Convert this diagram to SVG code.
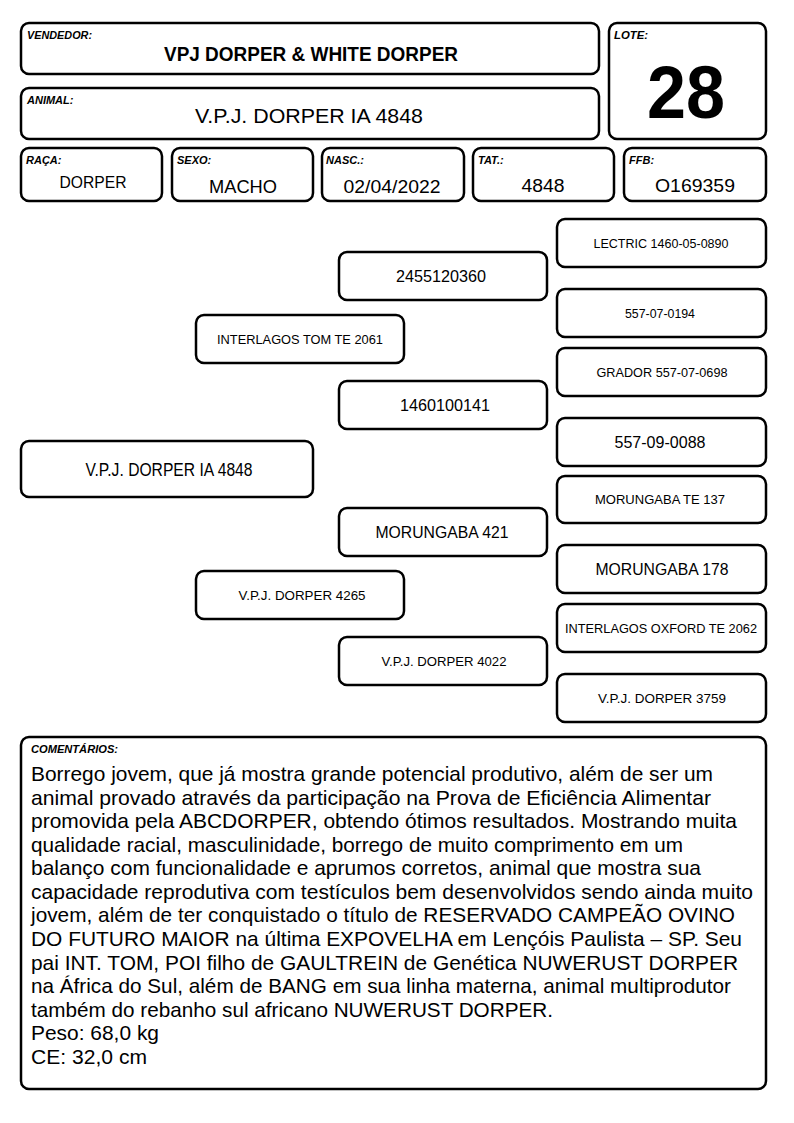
<svg xmlns="http://www.w3.org/2000/svg" width="794" height="1123" viewBox="0 0 794 1123">
<style>
.b{fill:#fff;stroke:#000;stroke-width:2.5}
text{font-family:"Liberation Sans",Arial,sans-serif;fill:#000}
.lb{font-size:11px;font-weight:bold;font-style:italic}
.c{text-anchor:middle}
.s{font-size:13px}
.m{font-size:16.5px}
.cm{font-size:21px}
</style>
<rect width="794" height="1123" fill="#fff"/>
<g id="vendedor">
<rect class="b" x="21" y="23" width="578" height="51" rx="8"/>
<text class="lb" x="27" y="39" textLength="65" lengthAdjust="spacingAndGlyphs">VENDEDOR:</text>
<text class="c" x="311" y="61" font-size="20" font-weight="bold" textLength="294" lengthAdjust="spacingAndGlyphs">VPJ DORPER &amp; WHITE DORPER</text>
</g>
<g id="animal">
<rect class="b" x="21" y="88" width="578" height="51" rx="8"/>
<text class="lb" x="27" y="104">ANIMAL:</text>
<text class="c" x="309" y="123" font-size="21" textLength="228" lengthAdjust="spacingAndGlyphs">V.P.J. DORPER IA 4848</text>
</g>
<g id="lote">
<rect class="b" x="609" y="23" width="157" height="116" rx="8"/>
<text class="lb" x="614" y="39" textLength="34" lengthAdjust="spacingAndGlyphs">LOTE:</text>
<text class="c" x="686" y="118" font-size="74" font-weight="bold" textLength="78" lengthAdjust="spacingAndGlyphs">28</text>
</g>
<g id="raca">
<rect class="b" x="21" y="148" width="141" height="53" rx="8"/>
<text class="lb" x="26" y="164">RAÇA:</text>
<text class="c" x="93" y="188" font-size="17" textLength="67" lengthAdjust="spacingAndGlyphs">DORPER</text>
</g>
<g id="sexo">
<rect class="b" x="172" y="148" width="141" height="53" rx="8"/>
<text class="lb" x="177" y="164">SEXO:</text>
<text class="c" x="243" y="193" font-size="18" textLength="68" lengthAdjust="spacingAndGlyphs">MACHO</text>
</g>
<g id="nasc">
<rect class="b" x="322" y="148" width="142" height="53" rx="8"/>
<text class="lb" x="326" y="164">NASC.:</text>
<text class="c" x="392" y="193" font-size="18" textLength="97" lengthAdjust="spacingAndGlyphs">02/04/2022</text>
</g>
<g id="tat">
<rect class="b" x="473" y="148" width="141" height="53" rx="8"/>
<text class="lb" x="478" y="164">TAT.:</text>
<text class="c" x="543" y="192" font-size="18" textLength="43" lengthAdjust="spacingAndGlyphs">4848</text>
</g>
<g id="ffb">
<rect class="b" x="624" y="148" width="142" height="53" rx="8"/>
<text class="lb" x="629" y="164">FFB:</text>
<text class="c" x="695" y="192" font-size="18" textLength="80" lengthAdjust="spacingAndGlyphs">O169359</text>
</g>
<g id="connectors"></g>
<g id="p-main">
<rect class="b" x="21" y="441" width="292" height="56" rx="8"/>
<text class="c" x="169" y="476" font-size="18" textLength="167" lengthAdjust="spacingAndGlyphs">V.P.J. DORPER IA 4848</text>
</g>
<g id="p-sire">
<rect class="b" x="196" y="315" width="208" height="48" rx="8"/>
<text class="c s" x="300" y="344" textLength="166" lengthAdjust="spacingAndGlyphs">INTERLAGOS TOM TE 2061</text>
</g>
<g id="p-dam">
<rect class="b" x="196" y="571" width="208" height="48" rx="8"/>
<text class="c s" x="302" y="600" textLength="127" lengthAdjust="spacingAndGlyphs">V.P.J. DORPER 4265</text>
</g>
<g id="p-ss">
<rect class="b" x="339" y="252" width="208" height="48" rx="8"/>
<text class="c m" x="441" y="282" textLength="90" lengthAdjust="spacingAndGlyphs">2455120360</text>
</g>
<g id="p-sd">
<rect class="b" x="339" y="381" width="208" height="48" rx="8"/>
<text class="c m" x="445" y="411" textLength="90" lengthAdjust="spacingAndGlyphs">1460100141</text>
</g>
<g id="p-ds">
<rect class="b" x="339" y="508" width="208" height="48" rx="8"/>
<text class="c m" x="442" y="538" textLength="133" lengthAdjust="spacingAndGlyphs">MORUNGABA 421</text>
</g>
<g id="p-dd">
<rect class="b" x="339" y="637" width="208" height="48" rx="8"/>
<text class="c s" x="444" y="666" textLength="125" lengthAdjust="spacingAndGlyphs">V.P.J. DORPER 4022</text>
</g>
<g id="p-sss">
<rect class="b" x="557" y="219" width="209" height="48" rx="8"/>
<text class="c s" x="661" y="248" textLength="135" lengthAdjust="spacingAndGlyphs">LECTRIC 1460-05-0890</text>
</g>
<g id="p-ssd">
<rect class="b" x="557" y="289" width="209" height="48" rx="8"/>
<text class="c" x="660" y="318" font-size="12.5" textLength="70" lengthAdjust="spacingAndGlyphs">557-07-0194</text>
</g>
<g id="p-sds">
<rect class="b" x="557" y="348" width="209" height="48" rx="8"/>
<text class="c s" x="662" y="377" textLength="131" lengthAdjust="spacingAndGlyphs">GRADOR 557-07-0698</text>
</g>
<g id="p-sdd">
<rect class="b" x="557" y="418" width="209" height="48" rx="8"/>
<text class="c" x="660" y="448" font-size="17" textLength="91" lengthAdjust="spacingAndGlyphs">557-09-0088</text>
</g>
<g id="p-dss">
<rect class="b" x="557" y="476" width="209" height="47" rx="8"/>
<text class="c s" x="660" y="504" textLength="130" lengthAdjust="spacingAndGlyphs">MORUNGABA TE 137</text>
</g>
<g id="p-dsd">
<rect class="b" x="557" y="545" width="209" height="48" rx="8"/>
<text class="c" x="662" y="575" font-size="17" textLength="133" lengthAdjust="spacingAndGlyphs">MORUNGABA 178</text>
</g>
<g id="p-dds">
<rect class="b" x="557" y="604" width="209" height="48" rx="8"/>
<text class="c s" x="661" y="633" textLength="192" lengthAdjust="spacingAndGlyphs">INTERLAGOS OXFORD TE 2062</text>
</g>
<g id="p-ddd">
<rect class="b" x="557" y="674" width="209" height="48" rx="8"/>
<text class="c s" x="662" y="703" textLength="128" lengthAdjust="spacingAndGlyphs">V.P.J. DORPER 3759</text>
</g>
<g id="comentarios">
<rect class="b" x="21" y="737" width="745" height="352" rx="8"/>
<text class="lb" x="31" y="753" textLength="87" lengthAdjust="spacingAndGlyphs">COMENTÁRIOS:</text>
<text class="cm" x="31" y="781" textLength="682" lengthAdjust="spacingAndGlyphs">Borrego jovem, que já mostra grande potencial produtivo, além de ser um</text>
<text class="cm" x="31" y="805" textLength="680" lengthAdjust="spacingAndGlyphs">animal provado através da participação na Prova de Eficiência Alimentar</text>
<text class="cm" x="31" y="828" textLength="706" lengthAdjust="spacingAndGlyphs">promovida pela ABCDORPER, obtendo ótimos resultados. Mostrando muita</text>
<text class="cm" x="31" y="852" textLength="652" lengthAdjust="spacingAndGlyphs">qualidade racial, masculinidade, borrego de muito comprimento em um</text>
<text class="cm" x="31" y="875" textLength="670" lengthAdjust="spacingAndGlyphs">balanço com funcionalidade e aprumos corretos, animal que mostra sua</text>
<text class="cm" x="31" y="899" textLength="722" lengthAdjust="spacingAndGlyphs">capacidade reprodutiva com testículos bem desenvolvidos sendo ainda muito</text>
<text class="cm" x="31" y="922" textLength="704" lengthAdjust="spacingAndGlyphs">jovem, além de ter conquistado o título de RESERVADO CAMPEÃO OVINO</text>
<text class="cm" x="31" y="946" textLength="711" lengthAdjust="spacingAndGlyphs">DO FUTURO MAIOR na última EXPOVELHA em Lençóis Paulista – SP. Seu</text>
<text class="cm" x="31" y="970" textLength="707" lengthAdjust="spacingAndGlyphs">pai INT. TOM, POI filho de GAULTREIN de Genética NUWERUST DORPER</text>
<text class="cm" x="31" y="993" textLength="700" lengthAdjust="spacingAndGlyphs">na África do Sul, além de BANG em sua linha materna, animal multiprodutor</text>
<text class="cm" x="31" y="1017" textLength="522" lengthAdjust="spacingAndGlyphs">também do rebanho sul africano NUWERUST DORPER.</text>
<text class="cm" x="31" y="1040" textLength="128" lengthAdjust="spacingAndGlyphs">Peso: 68,0 kg</text>
<text class="cm" x="31" y="1064" textLength="116" lengthAdjust="spacingAndGlyphs">CE: 32,0 cm</text>
</g>
</svg>
